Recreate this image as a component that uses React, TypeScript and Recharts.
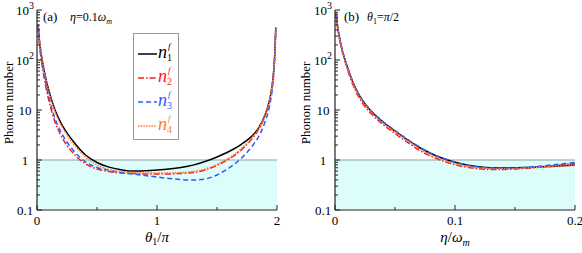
import React from "react";
import { LineChart, Line, XAxis, YAxis, ReferenceArea, ReferenceLine } from "recharts";

// (a) eta = 0.1 omega_m, phonon numbers vs theta1/pi
const thetaA = [0.01, 0.02, 0.03, 0.04, 0.06, 0.08, 0.1, 0.15, 0.2, 0.3, 0.4, 0.5, 0.6, 0.7, 0.8, 0.9, 1.0, 1.1, 1.2, 1.3, 1.4, 1.5, 1.6, 1.7, 1.8, 1.85, 1.9, 1.94, 1.96, 1.97, 1.98, 1.99];
const n1A = [500, 251, 158, 110, 60.3, 36.3, 24.0, 10, 5.5, 2.4, 1.29, 0.89, 0.72, 0.64, 0.6, 0.61, 0.63, 0.66, 0.71, 0.79, 0.93, 1.15, 1.48, 2.04, 3.16, 4.47, 7.9, 16.6, 31.6, 52.5, 112, 447];
const n2A = [447, 209, 126, 85, 43.7, 24.5, 15.1, 5.75, 3.09, 1.38, 0.85, 0.66, 0.59, 0.55, 0.54, 0.525, 0.525, 0.525, 0.54, 0.56, 0.63, 0.78, 1.05, 1.58, 2.82, 4.17, 7.6, 15.8, 30.2, 50, 105, 417];
const n3A = [479, 229, 141, 95.5, 50.1, 28.2, 17.4, 6.76, 3.63, 1.58, 0.93, 0.71, 0.62, 0.56, 0.525, 0.49, 0.457, 0.427, 0.407, 0.398, 0.417, 0.501, 0.692, 1.07, 2.0, 3.02, 5.75, 12.6, 25.1, 42.7, 95.5, 398];
const n4A = [525, 263, 166, 112, 60.3, 35.5, 22.9, 9.33, 5.01, 2.14, 1.17, 0.79, 0.646, 0.589, 0.562, 0.55, 0.55, 0.55, 0.562, 0.589, 0.661, 0.813, 1.1, 1.66, 2.95, 4.37, 7.94, 16.6, 31.6, 52.5, 110, 437];

// (b) theta1 = pi/2, phonon numbers vs eta/omega_m
const etaB = [0.001, 0.002, 0.004, 0.006, 0.008, 0.01, 0.015, 0.02, 0.025, 0.03, 0.04, 0.05, 0.06, 0.07, 0.08, 0.09, 0.1, 0.11, 0.12, 0.13, 0.14, 0.15, 0.16, 0.17, 0.18, 0.19, 0.2];
const n1B = [851, 501, 263, 158, 107, 75.9, 35.5, 20, 13.2, 9.55, 5.75, 3.8, 2.57, 1.8, 1.35, 1.07, 0.902, 0.794, 0.733, 0.70, 0.692, 0.697, 0.708, 0.724, 0.745, 0.767, 0.794];
const n2B = [794, 468, 245, 148, 100, 69.2, 31.6, 17.8, 11.7, 8.5, 5.13, 3.39, 2.29, 1.58, 1.19, 0.955, 0.804, 0.716, 0.668, 0.646, 0.646, 0.661, 0.684, 0.716, 0.759, 0.804, 0.851];
const n3B = [871, 513, 269, 162, 110, 77.6, 36.3, 20.4, 13.5, 9.77, 5.89, 3.89, 2.63, 1.84, 1.36, 1.084, 0.912, 0.794, 0.724, 0.692, 0.684, 0.692, 0.716, 0.75, 0.794, 0.841, 0.891];
const n4B = [813, 479, 257, 155, 105, 72.4, 33.9, 19.1, 12.6, 9.12, 5.5, 3.63, 2.45, 1.7, 1.26, 1.0, 0.841, 0.75, 0.70, 0.676, 0.668, 0.676, 0.692, 0.716, 0.741, 0.759, 0.776];

const yMajor = [0.1, 1, 10, 100, 1000];
const yTicks = [0.1, 1, 10, 100].flatMap(d => [1, 2, 3, 4, 5, 6, 7, 8, 9].map(k => k * d)).concat([1000]);
const xTicksA = [0, 0.5, 1, 1.5, 2];
const xLabelsA: Record<number, string> = { 0: "0", 1: "1", 2: "2" };
const xTicksB = [0, 0.05, 0.1, 0.15, 0.2];
const xLabelsB: Record<number, string> = { 0: "0", 0.1: "0.1", 0.2: "0.2" };

const dataA = thetaA.map((x, i) => ({ x, n1: n1A[i], n2: n2A[i], n3: n3A[i], n4: n4A[i] }));
const dataB = etaB.map((x, i) => ({ x, n1: n1B[i], n2: n2B[i], n3: n3B[i], n4: n4B[i] }));

const serif = "'Liberation Serif', 'Times New Roman', serif";
const axisColor = "#222";
const colors = { n1: "#000000", n2: "#ff1a1a", n3: "#2c5bff", n4: "#ff7a30" };
const dashes = { n1: undefined, n2: "6 2 1.5 2", n3: "5 3", n4: "1.5 1.2" };
const txt = { fontFamily: serif };

function yLabel(v: number) {
  if (v === 100) return <>10<tspan dy={-6} fontSize={10}>2</tspan></>;
  if (v === 1000) return <>10<tspan dy={-6} fontSize={10}>3</tspan></>;
  return String(v);
}

function LeftTick(props: any) {
  const { x, y, payload } = props;
  const major = yMajor.includes(payload.value);
  return (
    <g>
      <line x1={x} x2={x + (major ? 5 : 3)} y1={y} y2={y} stroke={axisColor} />
      {major && (
        <text x={x - 12} y={y + 4.5} textAnchor="middle" style={txt} fontSize={13} fill="#000">
          {yLabel(payload.value)}
        </text>
      )}
    </g>
  );
}

function RightTick(props: any) {
  const { x, y, payload } = props;
  const major = yMajor.includes(payload.value);
  return <line x1={x} x2={x - (major ? 5 : 3)} y1={y} y2={y} stroke={axisColor} />;
}

function TopTick(props: any) {
  const { x, y, payload } = props;
  const len = payload.index % 2 === 0 ? 5 : 3;
  return <line x1={x} x2={x} y1={y} y2={y + len} stroke={axisColor} />;
}

function makeBottomTick(labels: Record<number, string>) {
  return (props: any) => {
    const { x, y, payload } = props;
    const lbl = labels[payload.value];
    return (
      <g>
        <line x1={x} x2={x} y1={y} y2={y - (lbl ? 5 : 3)} stroke={axisColor} />
        {lbl && (
          <text x={x} y={y + 15} textAnchor="middle" style={txt} fontSize={13} fill="#000">
            {lbl}
          </text>
        )}
      </g>
    );
  };
}

function YTitle({ px }: { px: number }) {
  return (
    <text x={px} y={103} transform={`rotate(-90 ${px} 103)`} textAnchor="middle" dy="0.35em"
      style={txt} fontSize={13} fill="#000">
      Phonon number
    </text>
  );
}

function XTitle({ px, kind }: { px: number; kind: "a" | "b" }) {
  return (
    <text x={px} y={242} textAnchor="middle" style={txt} fontSize={15} fill="#000">
      {kind === "a" ? (
        <>
          <tspan fontStyle="italic">θ</tspan>
          <tspan fontSize={10} dy={3}>1</tspan>
          <tspan dy={-3}>/</tspan>
          <tspan fontStyle="italic">π</tspan>
        </>
      ) : (
        <>
          <tspan fontStyle="italic">η</tspan>
          <tspan>/</tspan>
          <tspan fontStyle="italic">ω</tspan>
          <tspan fontStyle="italic" fontSize={10} dy={4}>m</tspan>
        </>
      )}
    </text>
  );
}

function Panel({ data, xMax, xTicks, xLabels, width, left, right, kind }: any) {
  const keys = ["n1", "n2", "n3", "n4"] as const;
  return (
    <LineChart width={width} height={253} data={data} margin={{ top: 10, right, bottom: 0, left: 0 }}>
      <ReferenceArea y1={0.1} y2={1} fill="#dcfdf9" fillOpacity={1} stroke="none" ifOverflow="hidden" />
      <ReferenceLine y={1} stroke="#8fa3a3" strokeWidth={1} />
      <XAxis dataKey="x" type="number" domain={[0, xMax]} ticks={xTicks} interval={0} height={43}
        tickSize={0} tickMargin={0} tickLine={false} tick={makeBottomTick(xLabels)}
        axisLine={{ stroke: axisColor, strokeWidth: 1.2 }}
        label={<XTitle px={left + (width - left - right) / 2} kind={kind} />} />
      <XAxis xAxisId="top" orientation="top" type="number" domain={[0, xMax]} ticks={xTicks} interval={0}
        height={0} tickSize={0} tickMargin={0} tickLine={false} tick={<TopTick />}
        axisLine={{ stroke: axisColor, strokeWidth: 1.2 }} allowDataOverflow />
      <YAxis scale="log" type="number" domain={[0.1, 1000]} ticks={yTicks} interval={0} width={left}
        allowDataOverflow tickSize={0} tickMargin={0} tickLine={false} tick={<LeftTick />}
        axisLine={{ stroke: axisColor, strokeWidth: 1.2 }}
        label={<YTitle px={kind === "a" ? 8 : 14} />} />
      <YAxis yAxisId="right" orientation="right" scale="log" type="number" domain={[0.1, 1000]}
        ticks={yTicks} interval={0} width={0} allowDataOverflow tickSize={0} tickMargin={0}
        tickLine={false} tick={<RightTick />} axisLine={{ stroke: axisColor, strokeWidth: 1.2 }} />
      {keys.map(k => (
        <Line key={k} dataKey={k} type="monotone" stroke={colors[k]} strokeWidth={1.5}
          strokeDasharray={dashes[k]} dot={false} activeDot={false} isAnimationActive={false} />
      ))}
    </LineChart>
  );
}

function LegendBox() {
  const rows = [
    { k: "n1", i: "1", y: 21 },
    { k: "n2", i: "2", y: 45 },
    { k: "n3", i: "3", y: 69 },
    { k: "n4", i: "4", y: 93 },
  ] as const;
  return (
    <svg width={46} height={107} style={{ position: "absolute", left: 133, top: 33 }}>
      <rect x={0.5} y={0.5} width={45} height={106} fill="#fff" stroke="#999" />
      {rows.map(r => (
        <g key={r.k}>
          <line x1={5} x2={24} y1={r.y} y2={r.y} stroke={colors[r.k]} strokeWidth={1.5} strokeDasharray={dashes[r.k]} />
          <text x={25} y={r.y + 4} style={txt} fontStyle="italic" fontSize={18} fill={colors[r.k]}>
            n
            <tspan x={35} dy={-9} fontSize={9}>f</tspan>
            <tspan x={34} dy={12} fontSize={10} fontStyle="normal">{r.i}</tspan>
          </text>
        </g>
      ))}
    </svg>
  );
}

export default function App() {
  return (
    <div style={{ position: "absolute", left: 0, top: 0, width: 582, height: 253, background: "#fff" }}>
      <div style={{ position: "absolute", left: 0, top: 0 }}>
        <Panel data={dataA} xMax={2} xTicks={xTicksA} xLabels={xLabelsA} width={291} left={37} right={14} kind="a" />
      </div>
      <div style={{ position: "absolute", left: 291, top: 0 }}>
        <Panel data={dataB} xMax={0.2} xTicks={xTicksB} xLabels={xLabelsB} width={291} left={44} right={7} kind="b" />
      </div>
      <svg width={582} height={30} style={{ position: "absolute", left: 0, top: 0, pointerEvents: "none" }}>
        <text x={43} y={21} style={txt} fontSize={13}>(a)</text>
        <text x={70} y={21} style={txt} fontSize={12}>
          <tspan fontStyle="italic">η</tspan>=0.1<tspan fontStyle="italic">ω</tspan>
          <tspan fontStyle="italic" fontSize={8} dy={3}>m</tspan>
        </text>
        <text x={344} y={21} style={txt} fontSize={13}>(b)</text>
        <text x={367} y={21} style={txt} fontSize={12}>
          <tspan fontStyle="italic">θ</tspan>
          <tspan fontSize={8} dy={3}>1</tspan>
          <tspan dy={-3}>=</tspan>
          <tspan fontStyle="italic">π</tspan>/2
        </text>
      </svg>
      <LegendBox />
    </div>
  );
}
